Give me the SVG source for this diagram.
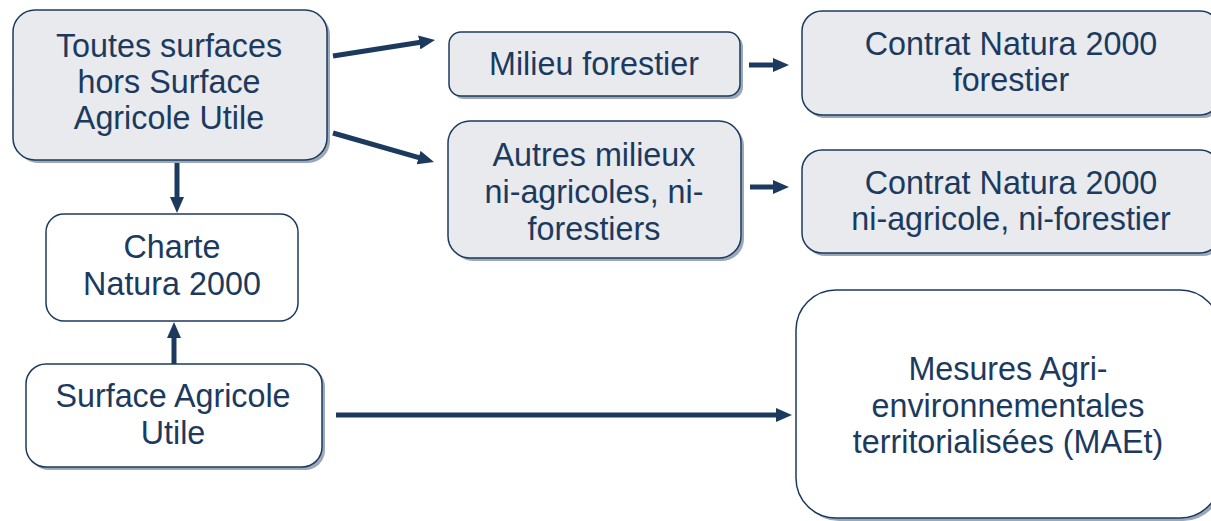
<svg xmlns="http://www.w3.org/2000/svg" width="1211" height="521" viewBox="0 0 1211 521">
<defs>
<style>
.box{stroke:#1c3a5e;stroke-width:1.5}
.grey{fill:#e8eaee}
.white{fill:#ffffff}
.shadow{fill:#9aa8b8;stroke:none}
.t{font-family:"Liberation Sans",Arial,sans-serif;font-size:32.3px;fill:#1c3a5e;text-anchor:middle}
.conn{stroke:#1c3a5e;stroke-width:5;fill:none}
</style>
<marker id="arr" markerUnits="userSpaceOnUse" markerWidth="16" markerHeight="14" refX="3" refY="7" orient="auto">
<path d="M0,0 L16,7 L0,14 z" fill="#1c3a5e"/>
</marker>
</defs>
<rect width="1211" height="521" fill="#ffffff"/>
<g id="connectors">
<line class="conn" x1="333" y1="56" x2="422.2" y2="42" marker-end="url(#arr)"/>
<line class="conn" x1="333" y1="133" x2="421.5" y2="158.4" marker-end="url(#arr)"/>
<line class="conn" x1="177" y1="163" x2="177" y2="200" marker-end="url(#arr)"/>
<line class="conn" x1="174" y1="364" x2="174" y2="335" marker-end="url(#arr)"/>
<line class="conn" x1="336" y1="415" x2="779" y2="415" marker-end="url(#arr)"/>
<line class="conn" x1="749" y1="65" x2="776" y2="65" marker-end="url(#arr)"/>
<line class="conn" x1="750" y1="187" x2="776" y2="187" marker-end="url(#arr)"/>
</g>
<g id="node-toutes">
<rect class="shadow" x="16" y="13" width="314" height="150" rx="22"/>
<rect class="box grey" x="13" y="10" width="314" height="150" rx="22"/>
<text class="t" x="169" y="57">Toutes surfaces</text>
<text class="t" x="169" y="93">hors Surface</text>
<text class="t" x="169" y="129">Agricole Utile</text>
</g>
<g id="node-milieu">
<rect class="shadow" x="452" y="35" width="291" height="64" rx="12"/>
<rect class="box grey" x="449" y="32" width="291" height="64" rx="12"/>
<text class="t" x="594" y="75">Milieu forestier</text>
</g>
<g id="node-autres">
<rect class="shadow" x="451" y="124" width="293" height="137" rx="22"/>
<rect class="box grey" x="448" y="121" width="293" height="137" rx="22"/>
<text class="t" x="594" y="166">Autres milieux</text>
<text class="t" x="594" y="203">ni-agricoles, ni-</text>
<text class="t" x="594" y="240">forestiers</text>
</g>
<g id="node-contrat-forestier">
<rect class="shadow" x="805" y="14" width="418" height="104" rx="20"/>
<rect class="box grey" x="802" y="11" width="418" height="104" rx="20"/>
<text class="t" x="1011" y="55">Contrat Natura 2000</text>
<text class="t" x="1011" y="91">forestier</text>
</g>
<g id="node-contrat-autre">
<rect class="shadow" x="805" y="153" width="418" height="103" rx="20"/>
<rect class="box grey" x="802" y="150" width="418" height="103" rx="20"/>
<text class="t" x="1011" y="194">Contrat Natura 2000</text>
<text class="t" x="1011" y="230">ni-agricole, ni-forestier</text>
</g>
<g id="node-charte">
<rect class="box white" x="46" y="214" width="252" height="107" rx="18"/>
<text class="t" x="172" y="258">Charte</text>
<text class="t" x="172" y="295">Natura 2000</text>
</g>
<g id="node-sau">
<rect class="shadow" x="29" y="367" width="296" height="103" rx="20"/>
<rect class="box white" x="26" y="364" width="296" height="103" rx="20"/>
<text class="t" x="173" y="407">Surface Agricole</text>
<text class="t" x="173" y="444">Utile</text>
</g>
<g id="node-maet">
<rect class="shadow" x="799" y="293" width="424" height="228" rx="40"/>
<rect class="box white" x="796" y="290" width="424" height="228" rx="40"/>
<text class="t" x="1008" y="380">Mesures Agri-</text>
<text class="t" x="1008" y="417">environnementales</text>
<text class="t" x="1008" y="453">territorialisées (MAEt)</text>
</g>
</svg>
